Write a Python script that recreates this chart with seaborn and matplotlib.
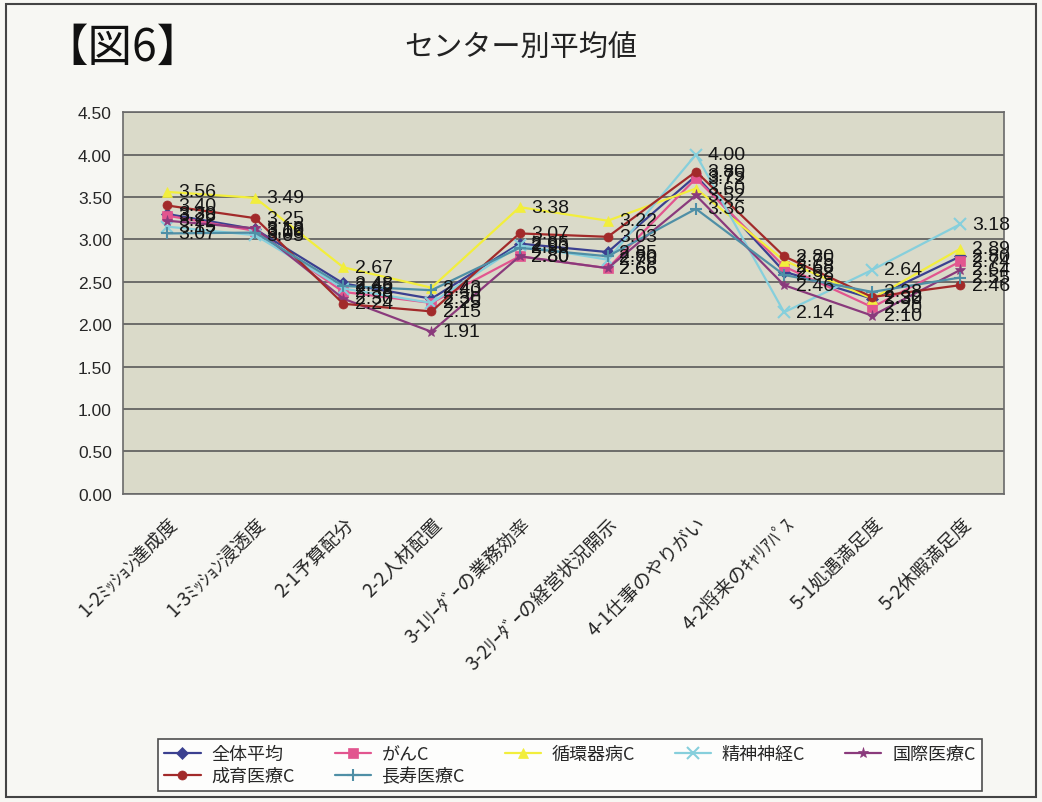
import matplotlib
matplotlib.use("Agg")
import matplotlib.pyplot as plt
import seaborn as sns
import pandas as pd
from matplotlib.patches import Rectangle

categories = ["1-2ﾐｯｼｮﾝ達成度", "1-3ﾐｯｼｮﾝ浸透度", "2-1予算配分", "2-2人材配置",
              "3-1ﾘｰﾀﾞｰの業務効率", "3-2ﾘｰﾀﾞｰの経営状況開示", "4-1仕事のやりがい",
              "4-2将来のｷｬﾘｱﾊﾟｽ", "5-1処遇満足度", "5-2休暇満足度"]

zentai = [3.30, 3.12, 2.48, 2.30, 2.95, 2.85, 3.75, 2.62, 2.30, 2.80]
gan = [3.28, 3.10, 2.38, 2.25, 2.80, 2.66, 3.72, 2.68, 2.20, 2.74]
junkanki = [3.56, 3.49, 2.67, 2.43, 3.38, 3.22, 3.60, 2.75, 2.30, 2.89]
seishin = [3.15, 3.05, 2.42, 2.25, 2.93, 2.76, 4.00, 2.14, 2.64, 3.18]
kokusai = [3.22, 3.13, 2.30, 1.91, 2.80, 2.66, 3.52, 2.46, 2.10, 2.64]
seiiku = [3.40, 3.25, 2.24, 2.15, 3.07, 3.03, 3.80, 2.80, 2.32, 2.46]
choju = [3.07, 3.08, 2.45, 2.40, 2.90, 2.80, 3.36, 2.58, 2.38, 2.55]

series_names = ["全体平均", "がんC", "循環器病C", "精神神経C", "国際医療C", "成育医療C", "長寿医療C"]
series_values = [zentai, gan, junkanki, seishin, kokusai, seiiku, choju]
colors = ["#3b4090", "#e2558f", "#f2ee3c", "#86cfdc", "#8a3a7c", "#a22a2a", "#4f8fa6"]
markers = ["D", "s", "^", "x", "*", "o", "+"]

sns.set_theme(style="white")
plt.rcParams["font.family"] = ["Noto Sans CJK JP", "DejaVu Sans"]
num_font = ["Liberation Sans", "DejaVu Sans"]

fig = plt.figure(figsize=(10.42, 8.03), dpi=100, facecolor="#f7f7f3")
ax = fig.add_axes([0.118, 0.384, 0.846, 0.475])
ax.set_facecolor("#dadac9")

xs = list(range(len(categories)))
for name, vals, col, mk in zip(series_names, series_values, colors, markers):
    df = pd.DataFrame({"x": xs, "y": vals})
    sns.lineplot(data=df, x="x", y="y", ax=ax, color=col, marker=mk,
                 markersize=6.5 if mk not in ("x", "+", "*") else 8,
                 markeredgewidth=1.5 if mk in ("x", "+") else 0.5,
                 markeredgecolor=col, linewidth=1.6, label=name, legend=False)
    for xi, v in zip(xs, vals):
        ax.text(xi + 0.13, v, f"{v:.2f}", fontsize=14, color="#151515",
                ha="left", va="center", family=num_font)

ax.set_xlim(-0.5, len(categories) - 0.5)
ax.set_ylim(0, 4.5)
ax.set_yticks([i * 0.5 for i in range(10)])
ax.set_yticklabels([f"{i * 0.5:.2f}" for i in range(10)], fontsize=12.5, family=num_font)
ax.set_xticks(xs)
ax.set_xticklabels(categories, rotation=45, ha="right", rotation_mode="anchor", fontsize=13.5)
ax.tick_params(axis="x", pad=14, length=0)
ax.tick_params(axis="y", length=0, pad=8)
ax.set_xlabel("")
ax.set_ylabel("")
ax.grid(axis="y", color="#5a5a5a", linewidth=1.2)
ax.set_axisbelow(True)
for sp in ax.spines.values():
    sp.set_color("#6a6a6a")
    sp.set_linewidth(1.2)

fig.text(0.50, 0.94, "センター別平均値", fontsize=21, ha="center", va="center", color="#222222")
fig.text(0.042, 0.94, "【図6】", fontsize=32, ha="left", va="center", color="#111111")

h, l = ax.get_legend_handles_labels()
order = [0, 5, 1, 6, 2, 3, 4]
leg = fig.legend([h[i] for i in order], [l[i] for i in order], ncol=5,
                 loc="lower center", bbox_to_anchor=(0.547, 0.002), fontsize=13,
                 frameon=True, fancybox=False, edgecolor="#222222",
                 handlelength=2.0, columnspacing=2.2, borderpad=0.35, labelspacing=0.2,
                 handletextpad=0.6)
leg.get_frame().set_linewidth(1.2)
leg.get_frame().set_facecolor("white")

fig.patches.append(Rectangle((0.006, 0.006), 0.988, 0.988, transform=fig.transFigure,
                             fill=False, edgecolor="#444444", linewidth=1.5))

fig.savefig("out.png", dpi=100, facecolor=fig.get_facecolor())
